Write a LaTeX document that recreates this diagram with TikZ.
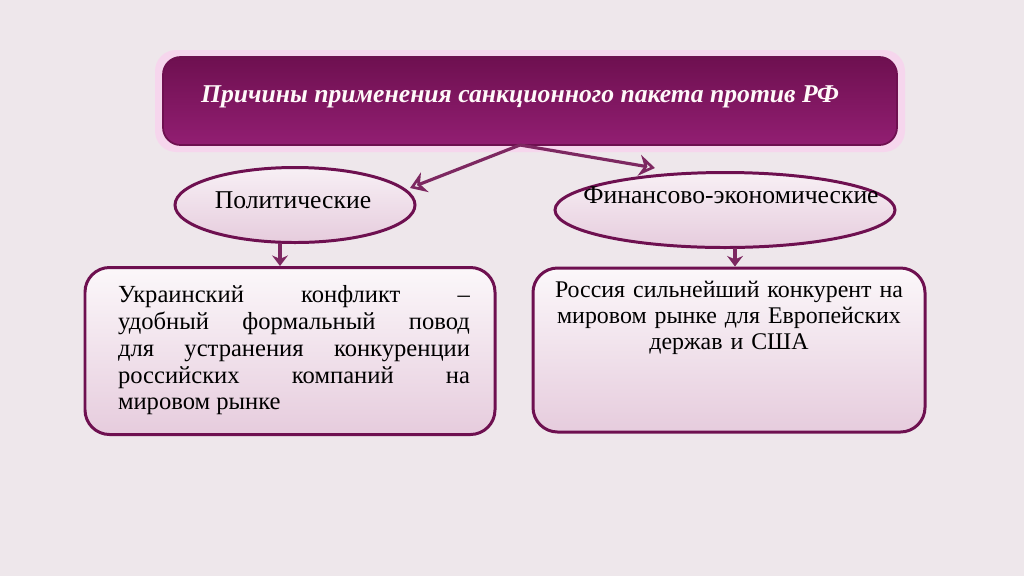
\documentclass[tikz,border=0pt]{standalone}
\usepackage{fontspec}
\setmainfont{Liberation Serif}
\usetikzlibrary{shapes.geometric,arrows.meta,shadows.blur}
\definecolor{plum}{HTML}{6E1050}
\definecolor{plumL}{HTML}{921E72}
\definecolor{bg}{HTML}{EEE7EB}
\definecolor{pinkF}{HTML}{E6CCDD}
\tikzset{
  ell/.style={ellipse,draw=plum,line width=1.7pt,top color=white!70!pinkF,bottom color=pinkF,inner sep=0pt},
  box/.style={rounded corners=14pt,draw=plum,line width=1.7pt,top color=white!85!pinkF,bottom color=pinkF},
  arr/.style={draw=plum!90!white,line width=1.8pt,-{Stealth[length=9pt,width=12pt,open]}},
  txt/.style={font=\fontsize{14}{15.3}\selectfont,inner sep=0pt,anchor=north},
  etxt/.style={font=\fontsize{14.6}{16}\selectfont}
}
\begin{document}
\begin{tikzpicture}[x=0.02cm,y=-0.02cm]
\fill[bg] (0,0) rectangle (1024,576);
\useasboundingbox (0,0) rectangle (1024,576);
% title
\fill[pink!60!magenta!40,rounded corners=12pt,opacity=0.5] (155,50) rectangle (905,152);
\node[draw=plum,line width=1pt,rounded corners=10pt,top color=plum,bottom color=plumL,minimum width=734*0.02cm,minimum height=88*0.02cm] (title) at (530,101) {};
\node[text=white!90!pink,font=\fontsize{14.6}{16}\selectfont\bfseries\itshape] (tt) at (520,97) {Причины применения санкционного пакета против РФ};
\coordinate (split) at (520,145);
% ellipses
\node[ell,minimum width=240*0.02cm,minimum height=75*0.02cm] (e1) at (295,205) {};
\node[etxt] (e1t) at (293,200) {Политические};
\node[ell,minimum width=340*0.02cm,minimum height=75*0.02cm] (e2) at (725,210) {};
\node[etxt] (e2t) at (731,195) {Финансово-экономические};
% boxes
\node[box,minimum width=410*0.02cm,minimum height=167*0.02cm] (b1) at (290,351) {};
\node[txt,text width=352*0.02cm,align=justify] (b1t) at (294,285) {Украинский конфликт – удобный формальный повод для устранения конкуренции российских компаний на\linebreak мировом рынке};
\node[box,minimum width=392*0.02cm,minimum height=164*0.02cm] (b2) at (729,350) {};
\node[txt,font=\fontsize{13.6}{14.8}\selectfont,text width=390*0.02cm,align=center] (b2t) at (729,281) {Россия сильнейший конкурент на\\ мировом рынке для Европейских\\ держав и США};
% arrows
\draw[arr] (split) -- (410,188);
\draw[arr] (split) -- (655,168);
\draw[arr,-{Stealth[length=6pt,width=9pt]}] (280,243) -- (b1.north -| 280,0);
\draw[arr,-{Stealth[length=6pt,width=9pt]}] (735,248) -- (b2.north -| 735,0);
\end{tikzpicture}
\end{document}
